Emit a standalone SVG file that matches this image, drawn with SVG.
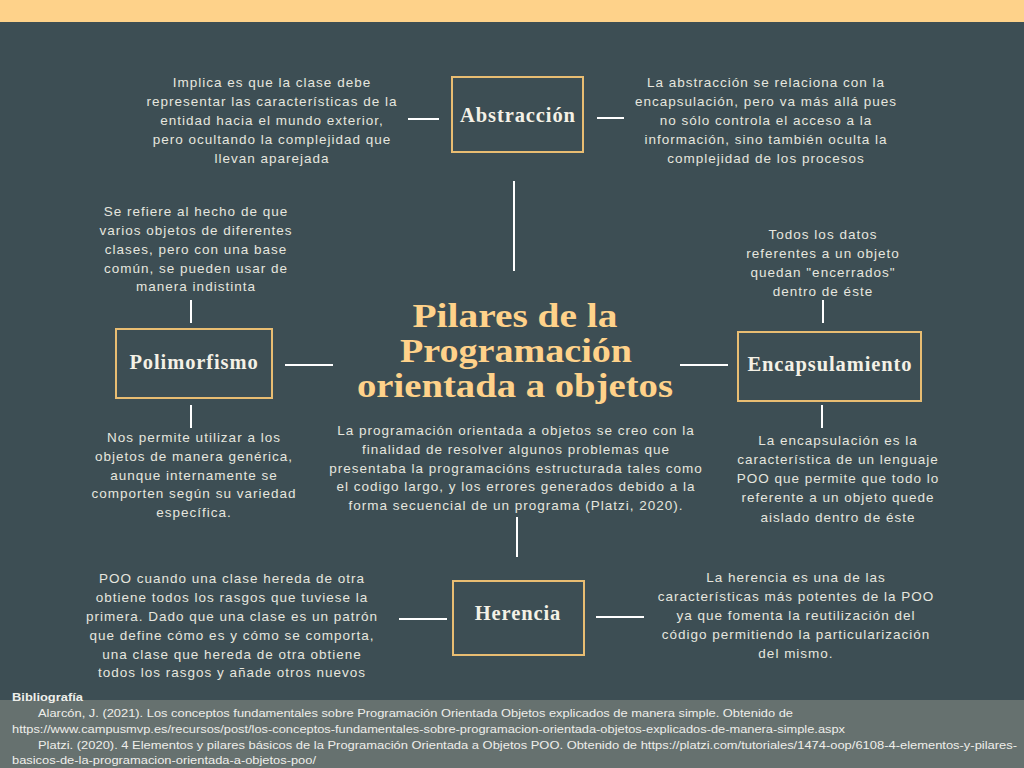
<svg xmlns="http://www.w3.org/2000/svg" width="1024" height="768" viewBox="0 0 1024 768">
<style>
.bg{fill:#3d4e54}
.box{fill:none;stroke:#e9bd72;stroke-width:2}
.lbl{font-family:"Liberation Serif","DejaVu Serif",serif;font-weight:bold;font-size:20.5px;fill:#f4f1e6;text-anchor:middle;letter-spacing:0.9px}
.t{font-family:"Liberation Sans","Arimo",sans-serif;font-size:13.5px;fill:#e6e6df;text-anchor:middle;letter-spacing:1px}
.title{font-family:"Liberation Serif","DejaVu Serif",serif;font-weight:bold;font-size:34px;fill:#ffd28a;text-anchor:middle}
.c line{stroke:#ffffff;stroke-width:2}
.bib{font-family:"Liberation Sans",sans-serif;font-size:11.5px;fill:#eeeeea}
</style>
<rect class="bg" x="0" y="0" width="1024" height="768"/>
<rect x="0" y="0" width="1024" height="22" fill="#fed28a"/>
<rect x="0" y="700" width="1024" height="68" fill="#66716f"/>

<g class="c" id="connectors">
<line x1="408" y1="119" x2="439" y2="119"/>
<line x1="597" y1="118" x2="624" y2="118" stroke-width="3"/>
<line x1="514" y1="181" x2="514" y2="271" stroke-width="3"/>
<line x1="191" y1="300" x2="191" y2="323"/>
<line x1="191" y1="405" x2="191" y2="428"/>
<line x1="285" y1="365" x2="333" y2="365"/>
<line x1="823" y1="300" x2="823" y2="323"/>
<line x1="822" y1="405" x2="822" y2="428"/>
<line x1="680" y1="365" x2="728" y2="365"/>
<line x1="517" y1="517" x2="517" y2="557"/>
<line x1="399" y1="619" x2="447" y2="619"/>
<line x1="596" y1="617" x2="644" y2="617"/>
</g>

<g id="title">
<text class="title" x="515" y="327" textLength="205" lengthAdjust="spacingAndGlyphs">Pilares de la</text>
<text class="title" x="516" y="362" textLength="232" lengthAdjust="spacingAndGlyphs">Programación</text>
<text class="title" x="515" y="397" textLength="316" lengthAdjust="spacingAndGlyphs">orientada a objetos</text>
<text class="t"><tspan x="516" y="435">La programación orientada a objetos se creo con la</tspan><tspan x="516" y="454">finalidad de resolver algunos problemas que</tspan><tspan x="516" y="473">presentaba la programacións estructurada tales como</tspan><tspan x="516" y="491">el codigo largo, y los errores generados debido a la</tspan><tspan x="516" y="510">forma secuencial de un programa (Platzi, 2020).</tspan></text>
</g>

<g id="abstraccion">
<rect class="box" x="452" y="77" width="131" height="75"/>
<text class="lbl" x="518" y="122">Abstracción</text>
<text class="t"><tspan x="272" y="87">Implica es que la clase debe</tspan><tspan x="272" y="106">representar las características de la</tspan><tspan x="272" y="125">entidad hacia el mundo exterior,</tspan><tspan x="272" y="144">pero ocultando la complejidad que</tspan><tspan x="272" y="163">llevan aparejada</tspan></text>
<text class="t"><tspan x="766" y="87">La abstracción se relaciona con la</tspan><tspan x="766" y="106">encapsulación, pero va más allá pues</tspan><tspan x="766" y="125">no sólo controla el acceso a la</tspan><tspan x="766" y="144">información, sino también oculta la</tspan><tspan x="766" y="163">complejidad de los procesos</tspan></text>
</g>

<g id="polimorfismo">
<rect class="box" x="116" y="329" width="156" height="69"/>
<text class="lbl" x="194" y="369">Polimorfismo</text>
<text class="t"><tspan x="196" y="216">Se refiere al hecho de que</tspan><tspan x="196" y="235">varios objetos de diferentes</tspan><tspan x="196" y="254">clases, pero con una base</tspan><tspan x="196" y="273">común, se pueden usar de</tspan><tspan x="196" y="291">manera indistinta</tspan></text>
<text class="t"><tspan x="194" y="442">Nos permite utilizar a los</tspan><tspan x="194" y="461">objetos de manera genérica,</tspan><tspan x="194" y="480">aunque internamente se</tspan><tspan x="194" y="498">comporten según su variedad</tspan><tspan x="194" y="517">específica.</tspan></text>
</g>

<g id="encapsulamiento">
<rect class="box" x="738" y="332" width="183" height="69"/>
<text class="lbl" x="830" y="371">Encapsulamiento</text>
<text class="t"><tspan x="823" y="239">Todos los datos</tspan><tspan x="823" y="258">referentes a un objeto</tspan><tspan x="823" y="277">quedan "encerrados"</tspan><tspan x="823" y="296">dentro de éste</tspan></text>
<text class="t"><tspan x="838" y="445">La encapsulación es la</tspan><tspan x="838" y="464">característica de un lenguaje</tspan><tspan x="838" y="483">POO que permite que todo lo</tspan><tspan x="838" y="502">referente a un objeto quede</tspan><tspan x="838" y="522">aislado dentro de éste</tspan></text>
</g>

<g id="herencia">
<rect class="box" x="453" y="581" width="131" height="74"/>
<text class="lbl" x="518" y="620">Herencia</text>
<text class="t"><tspan x="232" y="583">POO cuando una clase hereda de otra</tspan><tspan x="232" y="602">obtiene todos los rasgos que tuviese la</tspan><tspan x="232" y="621">primera. Dado que una clase es un patrón</tspan><tspan x="232" y="640">que define cómo es y cómo se comporta,</tspan><tspan x="232" y="659">una clase que hereda de otra obtiene</tspan><tspan x="232" y="677">todos los rasgos y añade otros nuevos</tspan></text>
<text class="t"><tspan x="796" y="582">La herencia es una de las</tspan><tspan x="796" y="601">características más potentes de la POO</tspan><tspan x="796" y="620">ya que fomenta la reutilización del</tspan><tspan x="796" y="639">código permitiendo la particularización</tspan><tspan x="796" y="658">del mismo.</tspan></text>
</g>

<g id="bibliografia">
<text class="bib" x="12" y="701" font-weight="bold" textLength="71" lengthAdjust="spacingAndGlyphs">Bibliografía</text>
<text class="bib" x="38" y="717" textLength="755" lengthAdjust="spacingAndGlyphs">Alarcón, J. (2021). Los conceptos fundamentales sobre Programación Orientada Objetos explicados de manera simple. Obtenido de</text>
<text class="bib" x="12" y="733" textLength="833" lengthAdjust="spacingAndGlyphs">https://www.campusmvp.es/recursos/post/los-conceptos-fundamentales-sobre-programacion-orientada-objetos-explicados-de-manera-simple.aspx</text>
<text class="bib" x="38" y="749" textLength="979" lengthAdjust="spacingAndGlyphs">Platzi. (2020). 4 Elementos y pilares básicos de la Programación Orientada a Objetos POO. Obtenido de https://platzi.com/tutoriales/1474-oop/6108-4-elementos-y-pilares-</text>
<text class="bib" x="12" y="764" textLength="304" lengthAdjust="spacingAndGlyphs">basicos-de-la-programacion-orientada-a-objetos-poo/</text>
</g>
</svg>
